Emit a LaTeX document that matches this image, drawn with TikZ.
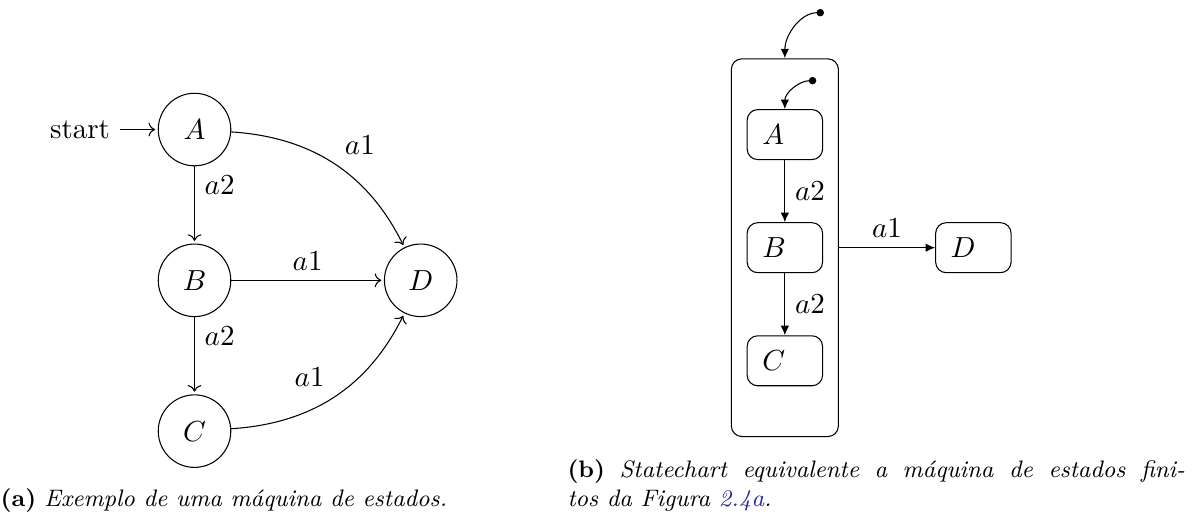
\documentclass[tikz,border=0pt,11pt]{standalone}
\usepackage{fontspec}
\usetikzlibrary{automata,arrows.meta}

\definecolor{linkblue}{RGB}{35,40,150}

\tikzset{
  sstate/.style={draw,rounded corners,inner sep=2mm,text width=6mm},
  superstate/.style={draw,rounded corners,minimum width=1.42cm,minimum height=5.01cm},
  sarrow/.style={-{Latex[length=3.6pt,width=3.2pt]}},
  sinit/.style={{Circle[length=2.8pt]}-{Latex[length=3.6pt,width=3.2pt]}},
  subcap/.style={font=\footnotesize,inner sep=0pt}
}

\begin{document}
\begin{tikzpicture}
  \useasboundingbox (0,0) rectangle (15.81,-6.83);

  % maquina de estados
  \begin{scope}[shift={(2.58,-1.718)},->,shorten >=1pt,auto]
    \node[state,initial] (A) at (0,0)  {$A$};
    \node[state]         (B) at (0,-2) {$B$};
    \node[state]         (C) at (0,-4) {$C$};
    \node[state]         (D) at (3,-2) {$D$};
    \path (A) edge node[above right] {$a2$} (B)
              edge[bend left] node {$a1$} (D)
          (B) edge node[above right] {$a2$} (C)
              edge node {$a1$} (D)
          (C) edge[bend right] node {$a1$} (D);
  \end{scope}

  % statechart
  \begin{scope}[shift={(10.41,-3.285)}]
    \node[sstate] (sA) at (0,1.5)  {$A$};
    \node[sstate] (sB) at (0,0)    {$B$};
    \node[sstate] (sC) at (0,-1.5) {$C$};
    \node[sstate] (sD) at (2.5,0)  {$D$};
    \node[superstate] (sup) at (sB) {};
    \coordinate (supinit) at (0.519,3.117);
    \coordinate (ainit)   at (0.416,2.215);
    \draw[sinit] (supinit) to[out=180,in=90] (sup.north);
    \draw[sinit] (ainit) to[out=180,in=90] (sA.north);
    \draw[sarrow] (sA) -- node[right] {$a2$} (sB);
    \draw[sarrow] (sB) -- node[right] {$a2$} (sC);
    \draw[sarrow] (sup.east) -- node[above] {$a1$} (sD);
  \end{scope}

  % legendas
  \node[subcap,anchor=base] (capa) at (2.97,-6.72)
    {\textbf{(a)} \textit{Exemplo de uma máquina de estados.}};
  \node[subcap,anchor=base west] (capb) at (7.52,-6.72)
    {\parbox[b]{233pt}{\makebox[233pt][s]{\textbf{(b)} \textit{Statechart equivalente a máquina de estados fini-}}\\
     \textit{tos da Figura \textcolor{linkblue}{2.4a}.}}};
\end{tikzpicture}
\end{document}
